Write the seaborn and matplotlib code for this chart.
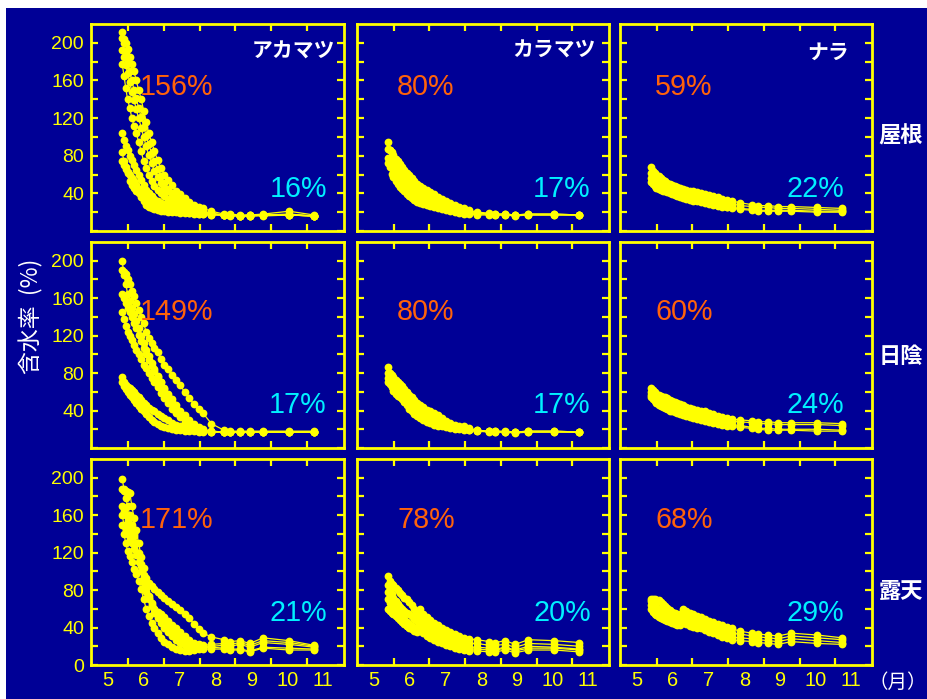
import numpy as np
import pandas as pd
import matplotlib
matplotlib.use('Agg')
import matplotlib.pyplot as plt
import seaborn as sns
from matplotlib import font_manager as fm
from matplotlib.patches import Rectangle
from matplotlib.ticker import FixedLocator

# ---------------- data ----------------
# measurement dates (month + fraction of month)
months = [5.84, 5.89, 5.94, 5.99, 6.05, 6.11, 6.17,
          6.23, 6.30, 6.37, 6.44, 6.51, 6.58, 6.66,
          6.74, 6.83, 6.92, 7.02, 7.12, 7.23, 7.34,
          7.46, 7.58, 7.71, 7.84, 7.97, 8.10, 8.33,
          8.68, 8.85, 9.13, 9.40, 9.77, 10.50, 11.20]

# moisture content (%) per sample, アカマツ
akamatsu_roof = [
    [212, 200, 190, 180, 170, 160, 150, 141, 131, 121, 111, 101, 92, 83, 74, 66, 58, 51, 45, 40, 36, 32, 29, 26, 24, 22, 20, 18, 17, 17, 16, 17, 17, 18, 16],
    [205, 204, 200, 193, 185, 178, 170, 160, 150, 140, 128, 116, 104, 95, 85, 75, 67, 60, 54, 49, 43, 39, 35, 31, 28, 26, 24, 21, 18, 18, 17, 17, 18, 21, 17],
    [192, 185, 176, 168, 158, 148, 139, 130, 120, 110, 100, 90, 81, 72, 64, 57, 51, 46, 42, 38, 34, 31, 28, 26, 24, 22, 20, 19, 17, 17, 16, 16, 17, 17, 16],
    [178, 165, 152, 140, 131, 120, 112, 104, 95, 85, 74, 67, 60, 53, 48, 44, 40, 37, 34, 32, 30, 28, 26, 25, 23, 21, 20, 18, 17, 17, 16, 17, 17, 17, 16],
    [104, 97, 90, 86, 80, 75, 70, 65, 60, 54, 49, 44, 40, 37, 34, 32, 30, 29, 28, 27, 25, 24, 23, 22, 21, 20, 19, 18, 17, 17, 16, 16, 17, 17, 16],
    [84, 74, 68, 62, 53, 49, 46, 43, 40, 36, 32, 28, 26, 24, 23, 22, 21, 21, 20, 20, 20, 19, 19, 19, 18, 18, 18, 17, 17, 16, 16, 16, 16, 17, 16],
    [74, 70, 66, 63, 59, 56, 53, 49, 45, 41, 37, 34, 31, 29, 27, 25, 24, 23, 22, 21, 21, 20, 20, 19, 19, 18, 18, 17, 17, 17, 16, 16, 17, 17, 16],
]
akamatsu_shade = [
    [200, 185, 175, 165, 157, 150, 143, 136, 128, 120, 112, 105, 98, 91, 84, 77, 70, 63, 56, 49, 43, 37, 32, 27, 23, 20, 19, 18, 17, 17, 17, 17, 17, 17, 17],
    [190, 188, 186, 180, 175, 168, 162, 155, 147, 140, 133, 124, 118, 112, 107, 102, 95, 89, 84, 78, 73, 67, 60, 53, 47, 42, 37, 26, 19, 18, 18, 18, 18, 18, 18],
    [165, 160, 155, 150, 145, 140, 134, 128, 121, 114, 107, 100, 94, 88, 82, 76, 70, 64, 58, 52, 46, 40, 35, 30, 26, 22, 20, 18, 17, 17, 17, 17, 17, 17, 17],
    [145, 138, 130, 124, 120, 115, 110, 105, 100, 95, 89, 85, 80, 75, 70, 65, 59, 53, 48, 42, 37, 33, 28, 24, 21, 19, 18, 17, 17, 17, 17, 17, 17, 17, 17],
    [76, 70, 67, 65, 64, 62, 60, 57, 54, 51, 48, 46, 43, 41, 39, 36, 34, 32, 30, 27, 25, 23, 21, 20, 19, 18, 18, 17, 17, 17, 17, 17, 17, 17, 17],
    [70, 66, 63, 60, 57, 54, 51, 48, 45, 42, 39, 36, 33, 30, 28, 26, 24, 22, 21, 20, 19, 19, 18, 18, 18, 17, 17, 17, 17, 17, 17, 17, 17, 17, 17],
]
akamatsu_open = [
    [199, 188, 178, 170, 160, 150, 140, 130, 118, 106, 94, 82, 72, 63, 56, 50, 45, 40, 35, 31, 27, 24, 21, 19, 18, 18, 18, 19, 18, 17, 17, 15, 19, 18, 17],
    [188, 186, 186, 185, 184, 170, 157, 144, 130, 115, 104, 93, 88, 84, 81, 78, 75, 72, 68, 65, 62, 59, 55, 50, 44, 38, 34, 30, 27, 25, 26, 23, 29, 26, 21],
    [170, 165, 160, 155, 150, 145, 138, 130, 120, 108, 96, 84, 74, 66, 60, 55, 50, 46, 42, 38, 34, 30, 27, 24, 22, 21, 20, 20, 21, 20, 22, 19, 24, 22, 19],
    [160, 150, 145, 140, 136, 130, 124, 117, 110, 100, 88, 78, 70, 64, 60, 57, 54, 51, 47, 43, 39, 35, 31, 27, 24, 22, 21, 22, 23, 22, 24, 21, 26, 24, 20],
    [150, 140, 130, 122, 116, 110, 103, 97, 90, 81, 70, 60, 52, 45, 39, 34, 29, 25, 22, 19, 17, 16, 15, 15, 16, 17, 17, 17, 17, 16, 16, 14, 18, 16, 16],
]

# カラマツ
karamatsu_roof = [
    [95, 86, 80, 75, 70, 66, 62, 59, 56, 53, 50, 47, 45, 42, 40, 38, 36, 34, 32, 30, 28, 26, 25, 23, 22, 21, 20, 19, 18, 18, 18, 17, 18, 18, 17],
    [87, 86, 84, 81, 77, 74, 71, 68, 65, 62, 59, 56, 53, 50, 48, 46, 44, 41, 39, 36, 34, 32, 30, 28, 26, 24, 22, 20, 19, 18, 18, 17, 18, 18, 17],
    [78, 68, 61, 57, 53, 50, 47, 45, 42, 39, 37, 35, 33, 31, 30, 29, 28, 27, 25, 24, 23, 22, 21, 20, 19, 18, 18, 17, 17, 17, 17, 16, 17, 17, 17],
    [72, 70, 68, 65, 62, 59, 56, 53, 50, 47, 44, 42, 40, 38, 36, 34, 33, 31, 29, 27, 26, 24, 23, 22, 21, 20, 19, 18, 18, 17, 17, 17, 17, 17, 17],
]
karamatsu_shade = [
    [86, 80, 76, 73, 70, 67, 64, 61, 58, 55, 52, 49, 47, 44, 41, 38, 36, 34, 32, 30, 28, 26, 24, 23, 22, 21, 20, 19, 18, 18, 18, 17, 18, 18, 17],
    [80, 79, 78, 76, 73, 71, 68, 66, 63, 60, 57, 54, 51, 48, 46, 44, 41, 39, 37, 35, 32, 29, 27, 25, 24, 23, 21, 19, 18, 18, 17, 17, 18, 18, 17],
    [75, 70, 65, 61, 58, 56, 54, 52, 49, 46, 42, 39, 36, 34, 32, 30, 28, 27, 25, 24, 23, 22, 21, 20, 20, 19, 19, 18, 17, 17, 17, 16, 17, 17, 17],
    [70, 68, 66, 64, 62, 60, 58, 56, 53, 50, 48, 45, 42, 40, 37, 35, 33, 31, 29, 27, 26, 24, 23, 22, 21, 20, 19, 18, 18, 17, 17, 17, 17, 17, 17],
]
karamatsu_open = [
    [95, 90, 87, 85, 82, 80, 77, 75, 72, 70, 67, 64, 60, 56, 60, 55, 51, 48, 45, 43, 40, 37, 35, 33, 31, 29, 28, 27, 25, 24, 26, 22, 27, 26, 24],
    [85, 80, 76, 72, 68, 65, 62, 60, 58, 56, 54, 52, 49, 47, 51, 47, 44, 41, 39, 36, 33, 31, 29, 27, 25, 24, 23, 23, 21, 21, 22, 19, 23, 22, 20],
    [78, 72, 68, 64, 60, 57, 54, 51, 49, 46, 44, 42, 40, 39, 43, 39, 36, 34, 32, 30, 28, 26, 24, 22, 21, 20, 19, 19, 18, 17, 19, 16, 20, 19, 17],
    [70, 66, 62, 59, 56, 53, 50, 47, 45, 42, 40, 38, 36, 35, 38, 34, 31, 29, 27, 25, 23, 21, 20, 18, 17, 16, 15, 15, 14, 14, 16, 13, 16, 16, 14],
    [60, 58, 56, 54, 52, 50, 48, 46, 44, 42, 41, 40, 38, 37, 41, 37, 34, 31, 29, 27, 25, 23, 22, 21, 19, 18, 17, 17, 16, 16, 18, 15, 18, 18, 16],
]

# ナラ
nara_roof = [
    [68, 64, 62, 60, 58, 56, 54, 53, 51, 50, 49, 48, 47, 46, 45, 44, 43, 42, 41, 40, 39, 38, 37, 36, 34, 33, 32, 30, 28, 27, 27, 26, 26, 25, 24],
    [62, 59, 57, 55, 53, 52, 50, 49, 48, 46, 45, 44, 43, 42, 41, 40, 39, 38, 37, 36, 35, 34, 33, 32, 31, 30, 29, 27, 26, 25, 25, 24, 24, 23, 22],
    [56, 52, 48, 46, 45, 44, 43, 42, 41, 40, 39, 38, 37, 36, 35, 34, 33, 32, 32, 31, 30, 29, 28, 27, 26, 25, 24, 23, 22, 21, 21, 21, 21, 20, 20],
    [52, 50, 49, 48, 47, 46, 45, 44, 43, 42, 41, 40, 39, 38, 37, 36, 35, 34, 33, 32, 31, 30, 29, 28, 27, 26, 25, 24, 23, 22, 22, 22, 22, 21, 21],
]
nara_shade = [
    [64, 62, 60, 58, 57, 56, 55, 54, 53, 51, 50, 49, 48, 47, 46, 44, 43, 42, 41, 40, 39, 37, 36, 34, 33, 32, 31, 30, 29, 28, 28, 27, 27, 27, 26],
    [60, 58, 56, 55, 53, 52, 51, 50, 48, 47, 46, 45, 44, 43, 42, 41, 40, 38, 37, 36, 35, 34, 33, 32, 31, 30, 29, 28, 27, 26, 26, 25, 25, 25, 24],
    [57, 55, 52, 50, 48, 47, 46, 45, 44, 42, 41, 40, 39, 38, 37, 36, 35, 34, 33, 32, 31, 30, 29, 28, 27, 26, 25, 24, 22, 21, 21, 20, 20, 20, 19],
    [54, 52, 50, 48, 46, 45, 44, 43, 42, 40, 39, 38, 37, 36, 35, 34, 33, 32, 31, 30, 29, 28, 27, 26, 25, 24, 23, 22, 21, 20, 19, 19, 19, 18, 18],
]
nara_open = [
    [71, 70, 70, 69, 69, 67, 65, 63, 61, 59, 57, 56, 55, 55, 60, 58, 56, 54, 52, 51, 49, 47, 46, 44, 43, 41, 39, 36, 34, 33, 32, 31, 34, 32, 29],
    [68, 66, 64, 62, 60, 58, 56, 54, 53, 52, 51, 50, 49, 49, 54, 52, 50, 48, 46, 45, 43, 42, 40, 38, 37, 35, 34, 33, 31, 30, 29, 28, 31, 29, 27],
    [64, 62, 60, 58, 56, 54, 52, 51, 50, 49, 48, 47, 46, 46, 50, 48, 46, 44, 42, 41, 39, 37, 36, 34, 32, 31, 30, 29, 28, 27, 26, 25, 28, 26, 24],
    [60, 57, 55, 53, 51, 50, 49, 48, 47, 46, 45, 44, 43, 43, 46, 44, 42, 41, 40, 39, 37, 35, 34, 32, 30, 29, 27, 26, 25, 24, 23, 22, 25, 23, 22],
]

species = ['アカマツ', 'カラマツ', 'ナラ']
sites = ['屋根', '日陰', '露天']
initial_labels = [['156%', '80%', '59%'], ['149%', '80%', '60%'], ['171%', '78%', '68%']]
final_labels = [['16%', '17%', '22%'], ['17%', '17%', '24%'], ['21%', '20%', '29%']]
month_labels = ['5', '6', '7', '8', '9', '10', '11']
y_label_values = [0, 40, 80, 120, 160, 200]

panels = [[akamatsu_roof, karamatsu_roof, nara_roof],
          [akamatsu_shade, karamatsu_shade, nara_shade],
          [akamatsu_open, karamatsu_open, nara_open]]

# ---------------- style ----------------
YELLOW = '#FFFF00'
NAVY = '#000096'
ORANGE = '#FF620A'
CYAN = '#00F0FF'
WHITE = '#FFFFFF'
JP = ['Noto Sans CJK JP', 'DejaVu Sans']


def has_font(name):
    try:
        fm.findfont(fm.FontProperties(family=name), fallback_to_default=False)
        return True
    except Exception:
        return False


if has_font('Liberation Sans Narrow'):
    NARROW, NSCALE = 'Liberation Sans Narrow', 1.0
else:
    NARROW, NSCALE = 'Liberation Sans', 0.9
SANS = 'Liberation Sans' if has_font('Liberation Sans') else 'DejaVu Sans'

W, H = 928, 699
fig = plt.figure(figsize=(W / 100, H / 100), dpi=100)
fig.patch.set_facecolor('white')
fig.add_artist(Rectangle((6 / W, 0), 1 - 6 / W, 1 - 7.5 / H, transform=fig.transFigure,
                         facecolor=NAVY, edgecolor='none', zorder=-10))

col_left = [91, 357, 620]
col_w = [253, 252, 252]
row_top = [24, 242, 459]
row_h = [207, 206, 206]


def fx(px):
    return px / W


def fy(py):
    return 1 - py / H


for r in range(3):
    for c in range(3):
        ax = fig.add_axes([fx(col_left[c]), fy(row_top[r] + row_h[r]),
                           col_w[c] / W, row_h[r] / H])
        ax.set_facecolor(NAVY)
        series = panels[r][c]
        for s in series:
            if len(s) != len(months):
                raise ValueError('length mismatch')
        df = pd.DataFrame({
            'month': np.tile(months, len(series)),
            'value': np.concatenate([np.asarray(s, float) for s in series]),
            'sample': np.repeat(np.arange(len(series)), len(months)),
        })
        sns.lineplot(data=df, x='month', y='value', units='sample', estimator=None,
                     sort=False, ax=ax, color=YELLOW, linewidth=0.9, marker='o',
                     markersize=5.6, markeredgewidth=0, markeredgecolor=YELLOW,
                     legend=False)
        ax.set_xlabel('')
        ax.set_ylabel('')
        ax.set_xlim(4.97, 12.03)
        ax.set_ylim(0, 220)
        for sp in ax.spines.values():
            sp.set_color(YELLOW)
            sp.set_linewidth(2.0)

        # x: month boundaries as inward ticks, labels at month centres
        ax.xaxis.set_minor_locator(FixedLocator([6, 7, 8, 9, 10, 11]))
        ax.xaxis.set_major_locator(FixedLocator([m + 0.45 for m in range(5, 12)]))
        ax.tick_params(axis='x', which='minor', direction='in', length=5, width=1.6,
                       color=YELLOW, top=True, bottom=True)
        ax.tick_params(axis='x', which='major', length=0, pad=4, top=False, bottom=True)
        if r == 2:
            ax.set_xticklabels(month_labels, fontfamily=NARROW, fontsize=16 * NSCALE,
                               color=YELLOW)
        else:
            ax.set_xticklabels([])

        ax.yaxis.set_major_locator(FixedLocator(y_label_values))
        ax.yaxis.set_minor_locator(FixedLocator([20, 60, 100, 140, 180]))
        ax.tick_params(axis='y', which='both', direction='in', length=5, width=1.6,
                       color=YELLOW, left=True, right=True, pad=5)
        if c == 0:
            labs = [str(v) for v in y_label_values]
            if r < 2:
                labs[0] = ''
            ax.set_yticklabels(labs, fontfamily=SANS, fontsize=14, color=YELLOW)
        else:
            ax.set_yticklabels([])

# ---------------- annotations ----------------
orange_x = [177, 426, 684]
cyan_x = [298, 562, 815]
orange_base = [95, 320, 528]
cyan_base = [197, 413, 621]
for r in range(3):
    for c in range(3):
        fig.text(fx(orange_x[c]), fy(orange_base[r]), initial_labels[r][c], color=ORANGE,
                 fontfamily=NARROW, fontsize=23 * NSCALE, ha='center', va='baseline')
        fig.text(fx(cyan_x[c]), fy(cyan_base[r]), final_labels[r][c], color=CYAN,
                 fontfamily=NARROW, fontsize=23 * NSCALE, ha='center', va='baseline')

species_pos = [(293, 51), (554, 50), (828, 52)]
for name, (x, y) in zip(species, species_pos):
    fig.text(fx(x), fy(y), name, color=WHITE, fontfamily=JP, fontweight='bold',
             fontsize=15, ha='center', va='center')

site_y = [136, 356, 591]
for name, y in zip(sites, site_y):
    fig.text(fx(901), fy(y), name, color=WHITE, fontfamily=JP, fontweight='bold',
             fontsize=16, ha='center', va='center')

fig.text(fx(31), fy(316), '含水率  (%)', color=WHITE, fontfamily=JP, fontsize=16.5,
         rotation=90, ha='center', va='center')
fig.text(fx(898), fy(682), '（月）', color=WHITE, fontfamily=JP, fontsize=14,
         ha='center', va='center')

fig.savefig('out.png', dpi=100, facecolor=fig.get_facecolor())
